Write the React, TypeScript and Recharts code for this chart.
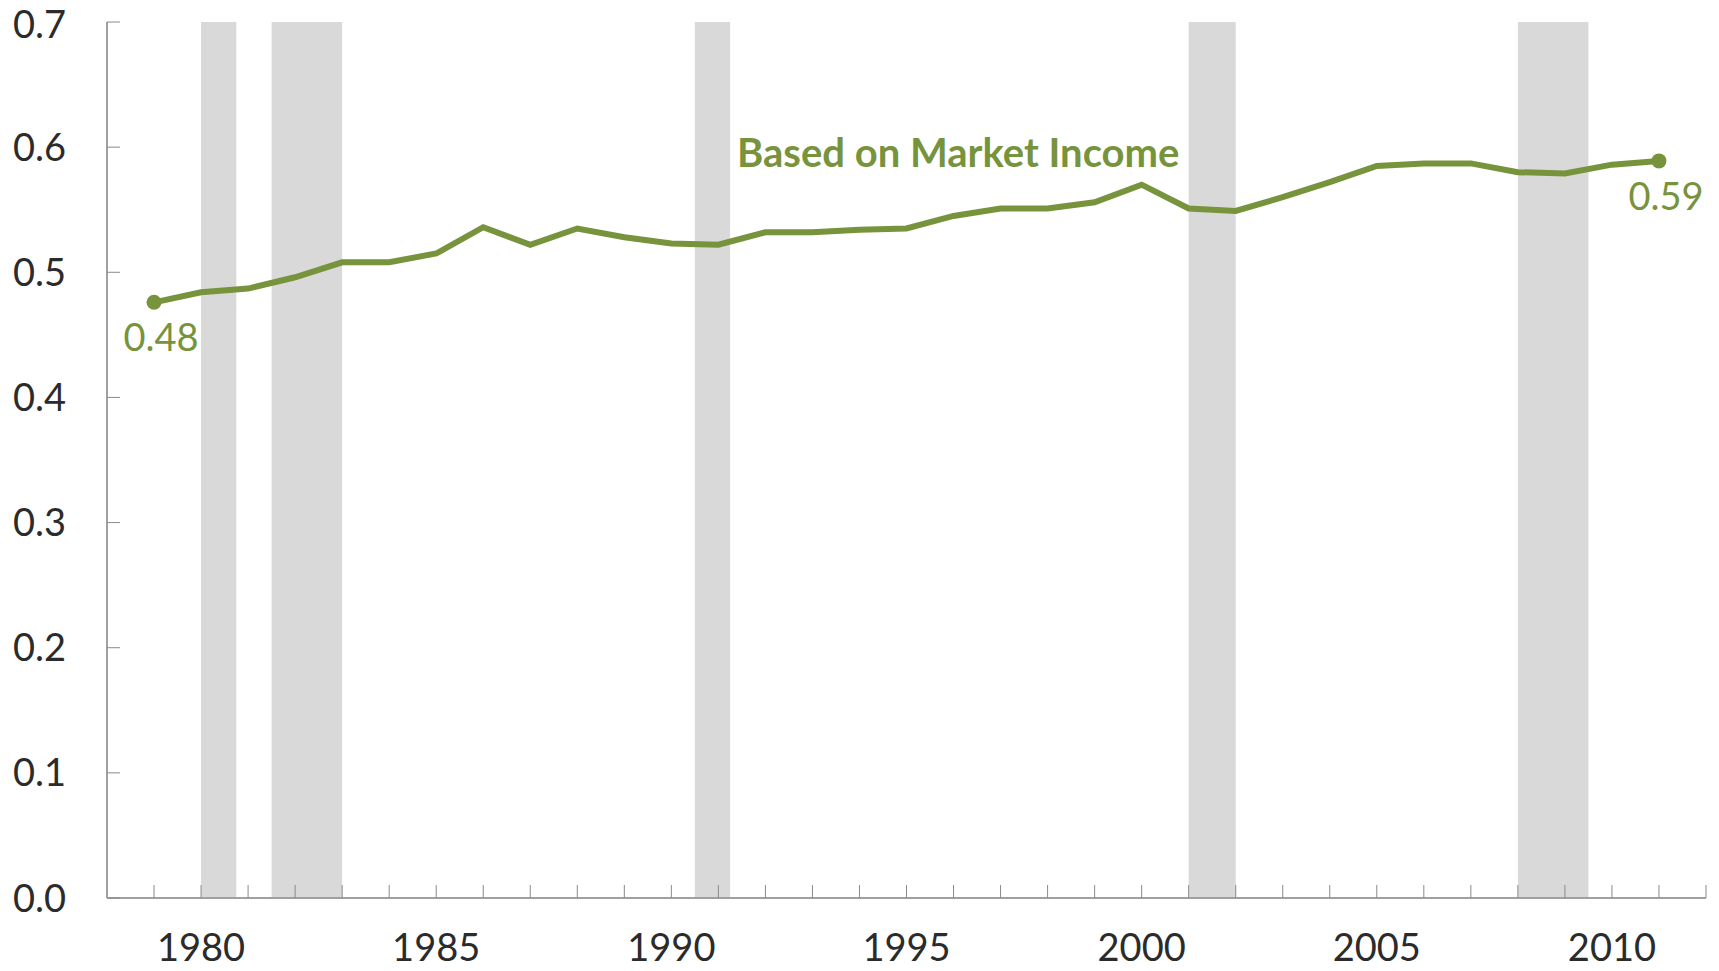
import React from "react";
import { LineChart, Line, XAxis, YAxis, ReferenceArea, ReferenceDot, LabelList } from "recharts";

const years = [
  1979, 1980, 1981, 1982, 1983, 1984, 1985, 1986, 1987, 1988, 1989, 1990, 1991, 1992, 1993, 1994, 1995,
  1996, 1997, 1998, 1999, 2000, 2001, 2002, 2003, 2004, 2005, 2006, 2007, 2008, 2009, 2010, 2011,
];
const giniMarket = [
  0.476, 0.484, 0.487, 0.496, 0.508, 0.508, 0.515, 0.536, 0.522, 0.535, 0.528, 0.523, 0.522, 0.532, 0.532, 0.534,
  0.535, 0.545, 0.551, 0.551, 0.556, 0.570, 0.551, 0.549, 0.560, 0.572, 0.585, 0.587, 0.587, 0.580, 0.579, 0.586,
  0.589,
];
const yTicks = [0, 0.1, 0.2, 0.3, 0.4, 0.5, 0.6, 0.7];
const xTicks = [
  1979, 1980, 1981, 1982, 1983, 1984, 1985, 1986, 1987, 1988, 1989, 1990, 1991, 1992, 1993, 1994, 1995,
  1996, 1997, 1998, 1999, 2000, 2001, 2002, 2003, 2004, 2005, 2006, 2007, 2008, 2009, 2010, 2011, 2012,
];
const xLabelYears = [1980, 1985, 1990, 1995, 2000, 2005, 2010];
const recessionStart = [1980.0, 1981.5, 1990.5, 2001.0, 2008.0];
const recessionEnd = [1980.75, 1983.0, 1991.25, 2002.0, 2009.5];
const seriesName = "Based on Market Income";

const GREEN = "#77933C";
const AXIS = "#A0A0A0";
const TICK = "#8A8A8A";
const TEXT = "#2B2B2B";
const FONT = "Lato, 'Noto Sans', sans-serif";

const data = years.map((year, i) => ({ year, gini: giniMarket[i] }));

const YTick = (props: any) => {
  const { x, y, payload } = props;
  // keep the top label fully inside the page
  const baseline = Math.max(y + 13.5, 38);
  return (
    <g>
      <line x1={x} x2={x + 13} y1={y} y2={y} stroke={TICK} strokeWidth={1} />
      <text x={x - 41} y={baseline} textAnchor="end" fill={TEXT} fontSize={38} fontFamily={FONT}>
        {Number(payload.value).toFixed(1)}
      </text>
    </g>
  );
};

const XTick = (props: any) => {
  const { x, y, payload } = props;
  const showLabel = xLabelYears.includes(payload.value);
  return (
    <g>
      <line x1={x} x2={x} y1={y} y2={y - 13} stroke={TICK} strokeWidth={1} />
      {showLabel && (
        <text x={x} y={y + 63} textAnchor="middle" fill={TEXT} fontSize={38} fontFamily={FONT}>
          {payload.value}
        </text>
      )}
    </g>
  );
};

const EndDot = (props: any) => {
  const { cx, cy, index } = props;
  if (index !== 0 && index !== data.length - 1) return <g key={`d${index}`} />;
  return <circle key={`d${index}`} cx={cx} cy={cy} r={7.5} fill={GREEN} />;
};

const EndLabel = (props: any) => {
  const { x, y, value, index } = props;
  if (index !== 0 && index !== data.length - 1) return null;
  return (
    <text x={x + 7} y={y + 49} textAnchor="middle" fill={GREEN} fontSize={38} fontFamily={FONT}>
      {Number(value).toFixed(2)}
    </text>
  );
};

const SeriesTitle = (props: any) => {
  const { cx, cy } = props;
  return (
    <text x={cx} y={cy} textAnchor="middle" fill={GREEN} fontSize={40} fontWeight={700} fontFamily={FONT}>
      {seriesName}
    </text>
  );
};

export default function App() {
  return (
    <div style={{ position: "absolute", left: 0, top: 0, background: "#fff" }}>
      <LineChart width={1719} height={971} data={data} margin={{ top: 22, right: 13, bottom: 0, left: 0 }}>
        {recessionStart.map((start, i) => (
          <ReferenceArea
            key={start}
            x1={start}
            x2={recessionEnd[i]}
            fill="#D9D9D9"
            fillOpacity={1}
            stroke="none"
          />
        ))}
        <XAxis
          dataKey="year"
          type="number"
          domain={[1978, 2012]}
          ticks={xTicks}
          interval={0}
          height={73}
          tickSize={0}
          tickMargin={0}
          tickLine={false}
          axisLine={{ stroke: AXIS, strokeWidth: 2 }}
          tick={<XTick />}
        />
        <YAxis
          type="number"
          domain={[0, 0.7]}
          ticks={yTicks}
          interval={0}
          width={107}
          tickSize={0}
          tickMargin={0}
          tickLine={false}
          axisLine={{ stroke: AXIS, strokeWidth: 2 }}
          tick={<YTick />}
        />
        <Line
          type="linear"
          dataKey="gini"
          stroke={GREEN}
          strokeWidth={6}
          dot={EndDot}
          activeDot={false}
          isAnimationActive={false}
        >
          <LabelList dataKey="gini" content={EndLabel} />
        </Line>
        <ReferenceDot x={1996.1} y={0.5843} r={0} shape={SeriesTitle} ifOverflow="visible" />
      </LineChart>
    </div>
  );
}
